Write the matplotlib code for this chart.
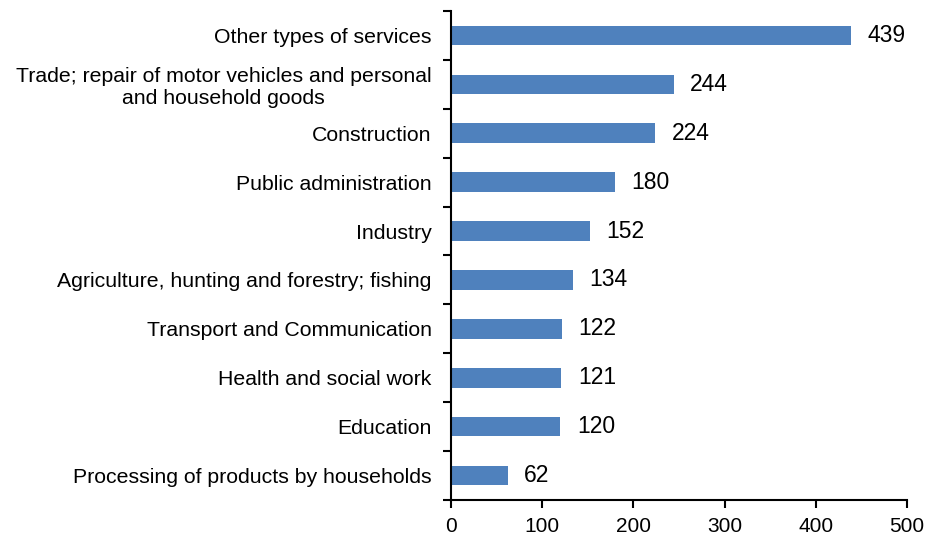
import matplotlib.pyplot as plt
import numpy as np

plt.rcParams['font.family'] = ['Liberation Sans', 'DejaVu Sans']

# sectors, listed bottom to top
sectors = ["Processing of products by households",
           "Education",
           "Health and social work",
           "Transport and Communication",
           "Agriculture, hunting and forestry; fishing",
           "Industry",
           "Public administration",
           "Construction",
           "Trade; repair of motor vehicles and personal\nand household goods",
           "Other types of services"]
counts = [62, 120, 121, 122, 134, 152, 180, 224, 244, 439]
xticks = [0, 100, 200, 300, 400, 500]

fig = plt.figure(figsize=(9.38, 5.39), dpi=100)
ax = fig.add_axes([0.4808, 0.0724, 0.967 - 0.4808, 0.9796 - 0.0724])

y = np.arange(len(sectors))
ax.barh(y, counts, height=0.4, color='#4F81BD')

for yi, c in zip(y, counts):
    ax.text(c + 18, yi, str(c), va='center', ha='left', fontsize=16.5)

ax.set_xlim(0, 500)
ax.set_ylim(-0.5, len(sectors) - 0.5)
ax.set_xticks(xticks)
ax.set_xticklabels([str(t) for t in xticks], fontsize=15)
ax.set_yticks(y)
ax.set_yticklabels(sectors, fontsize=15.3, multialignment='center')
ax.set_yticks(np.arange(-0.5, len(sectors)), minor=True)
ax.tick_params(axis='y', which='major', length=0, pad=14)
ax.tick_params(axis='y', which='minor', length=6, width=1.5, direction='out')
ax.tick_params(axis='x', length=6, width=1.5, direction='out', pad=6)

for s in ['top', 'right']:
    ax.spines[s].set_visible(False)
for s in ['left', 'bottom']:
    ax.spines[s].set_linewidth(1.5)

plt.savefig('out.png', dpi=100)
